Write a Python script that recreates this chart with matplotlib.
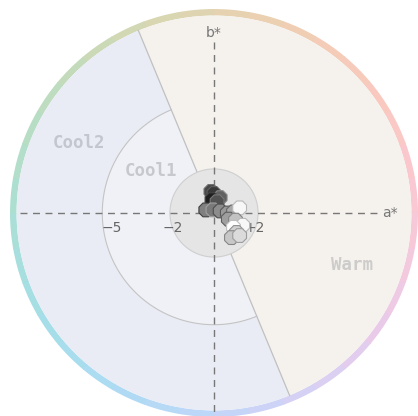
import numpy as np
import matplotlib
matplotlib.use("Agg")
import matplotlib.pyplot as plt
from matplotlib.patches import Wedge, Circle

# ---- data ----
a_vals = [-0.15, 0.00, 0.30, -0.10, 0.15, -0.40, -0.05, 0.30, 0.65, 0.95, 1.25, 0.70, 1.05, 1.40, 0.95, 1.10, 0.85, 1.25]
b_vals = [1.05, 0.95, 0.75, 0.65, 0.55, 0.15, 0.15, 0.10, 0.00, 0.05, 0.25, -0.30, -0.35, -0.60, -0.70, -0.95, -1.20, -1.10]
gray_vals = [0.28, 0.22, 0.38, 0.12, 0.32, 0.50, 0.48, 0.55, 0.60, 0.66, 0.97, 0.62, 0.76, 0.97, 1.00, 0.82, 0.78, 0.86]

tick_vals = [-5, -2, 2]
tick_labels = ["\u22125", "\u22122", "+2"]
region_names = ["Cool2", "Cool1", "Warm"]

R_OUT = 9.95
R_RING_IN = 9.63
R_COOL1 = 5.45
R_INNER = 2.15
SPLIT_ANGLE = 112.5

def lab_to_rgb(L, a, b):
    fy = (L + 16) / 116
    fx = fy + a / 500
    fz = fy - b / 200
    def finv(t):
        return t**3 if t**3 > 0.008856 else (t - 16/116) / 7.787
    X = 0.95047 * finv(fx); Y = finv(fy); Z = 1.08883 * finv(fz)
    r = 3.2406*X - 1.5372*Y - 0.4986*Z
    g = -0.9689*X + 1.8758*Y + 0.0415*Z
    bb = 0.0557*X - 0.2040*Y + 1.0570*Z
    def gam(c):
        c = max(0, min(1, c))
        return 12.92*c if c <= 0.0031308 else 1.055*c**(1/2.4) - 0.055
    return (gam(r), gam(g), gam(bb))

fig = plt.figure(figsize=(4.18, 4.16), dpi=100)
ax = fig.add_axes([0, 0, 1, 1])
s = 20.5
cx, cy = 214, 213
ax.set_xlim(-cx / s, (418 - cx) / s)
ax.set_ylim(-(416 - cy) / s, cy / s)
ax.set_aspect('equal')
ax.axis('off')

# hue ring
nseg = 36
for i in range(nseg):
    t0 = 360 * i / nseg
    t1 = 360 * (i + 1) / nseg
    h = np.deg2rad((t0 + t1) / 2)
    col = lab_to_rgb(85, 19 * np.cos(h), 19 * np.sin(h))
    ax.add_patch(Wedge((0, 0), R_OUT, t0, t1 + 0.3, width=R_OUT - R_RING_IN,
                       facecolor=col, edgecolor='none', zorder=1))

# regions
ax.add_patch(Wedge((0, 0), R_RING_IN, SPLIT_ANGLE - 180, SPLIT_ANGLE,
                   facecolor='#f5f2ed', edgecolor='none', zorder=1))
ax.add_patch(Wedge((0, 0), R_RING_IN, SPLIT_ANGLE, SPLIT_ANGLE + 180,
                   facecolor='#e9ecf4', edgecolor='none', zorder=1))
ax.add_patch(Wedge((0, 0), R_COOL1, SPLIT_ANGLE, SPLIT_ANGLE + 180,
                   facecolor='#eff1f6', edgecolor='none', zorder=2))
th = np.deg2rad(np.linspace(SPLIT_ANGLE, SPLIT_ANGLE + 180, 200))
ax.plot(R_COOL1 * np.cos(th), R_COOL1 * np.sin(th), color='#c4c4c4', lw=0.8, zorder=3)
ang = np.deg2rad(SPLIT_ANGLE)
ax.plot([R_RING_IN * np.cos(ang), -R_RING_IN * np.cos(ang)],
        [R_RING_IN * np.sin(ang), -R_RING_IN * np.sin(ang)],
        color='#c0c0c0', lw=0.9, zorder=3)
ax.add_patch(Circle((0, 0), R_INNER, facecolor='#e5e5e5', edgecolor='#cfcfcf', lw=0.8, zorder=4))

# axes
ax.plot([-9.45, 8.15], [0, 0], color='#777777', lw=1.0, ls=(0, (5, 4)), zorder=5)
ax.plot([0, 0], [8.35, -9.7], color='#777777', lw=1.0, ls=(0, (5, 4)), zorder=5)
ax.text(8.6, 0.0, "a*", ha='center', va='center', fontsize=10, color='#777777', zorder=6)
ax.text(0.0, 8.8, "b*", ha='center', va='center', fontsize=10, color='#777777', zorder=6)
for v, lab in zip(tick_vals, tick_labels):
    ax.text(v, -0.72, lab, ha='center', va='center', fontsize=10, color='#666666', zorder=6)

# region labels
ax.text(-6.6, 3.4, region_names[0], ha='center', va='center', fontsize=12.5,
        family='DejaVu Sans Mono', fontweight='bold', color='#c3c6ce', zorder=6)
ax.text(-3.05, 2.05, region_names[1], ha='center', va='center', fontsize=12.5,
        family='DejaVu Sans Mono', fontweight='bold', color='#c6c8ce', zorder=6)
ax.text(6.75, -2.55, region_names[2], ha='center', va='center', fontsize=12.5,
        family='DejaVu Sans Mono', fontweight='bold', color='#cdcccb', zorder=6)

# points
cols = [(g, g, g) for g in gray_vals]
edges = [(min(1, g + 0.15),) * 3 if g < 0.5 else (max(0, g - 0.25),) * 3 for g in gray_vals]
ax.scatter(a_vals, b_vals, s=115, c=cols, edgecolors=edges, linewidths=0.8, marker='8', zorder=7)

fig.savefig("out.png", dpi=100)
